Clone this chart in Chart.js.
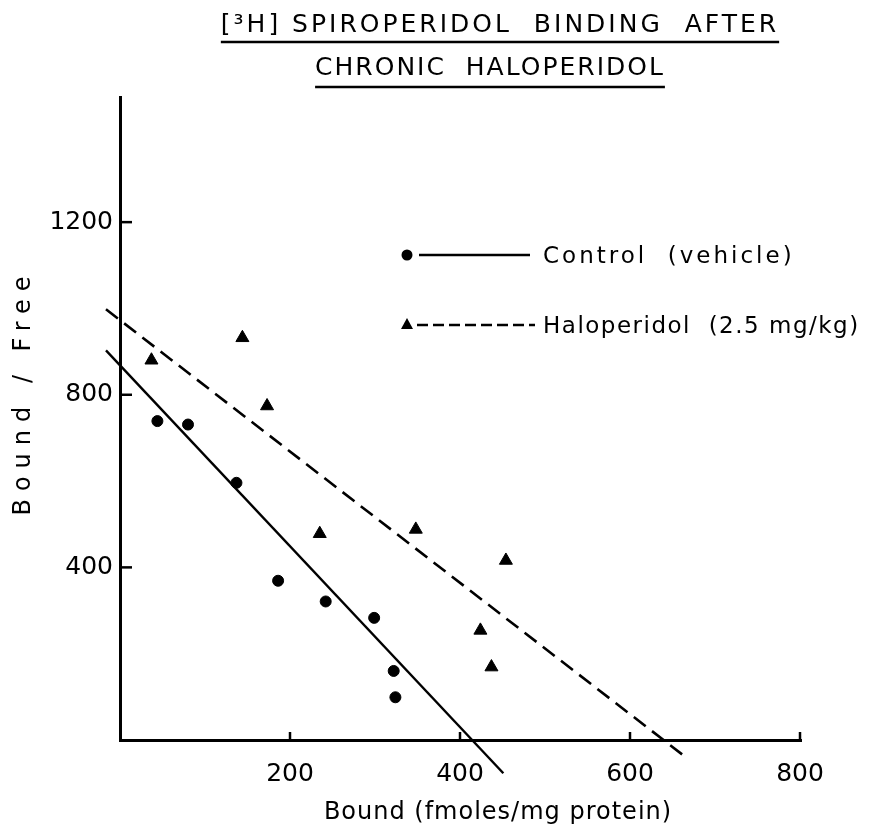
<!DOCTYPE html>
<html>
<head>
<meta charset="utf-8">
<title>[3H] Spiroperidol binding after chronic haloperidol</title>
<script src="https://cdn.jsdelivr.net/npm/chart.js@4.4.1/dist/chart.umd.min.js"></script>
<style>
  html, body { margin: 0; padding: 0; background: #fff; }
</style>
</head>
<body>
<canvas id="myChart" width="877" height="835"></canvas>
<script>
// values (Bound in fmoles/mg protein, Bound/Free)
const controlBound = [44, 80, 137, 186, 242, 299, 322, 324];
const controlBF    = [739, 731, 596, 369, 321, 283, 160, 99];
const haloBound    = [37, 144, 173, 235, 348, 424, 437, 454];
const haloBF       = [880, 932, 774, 478, 488, 254, 169, 416];

// the two fitted Scatchard lines, as drawn (they run past both axes)
const controlFitX = [-16.5, 451];
const controlFitY = [903, -77];
const haloFitX    = [-16.5, 667];
const haloFitY    = [998, -42];

const xTicks = [200, 400, 600, 800];
const yTicks = [400, 800, 1200];

const titleLines = ['[\u00B3H] SPIROPERIDOL  BINDING  AFTER', 'CHRONIC  HALOPERIDOL'];
const xTitle = 'Bound (fmoles/mg protein)';
const yTitle = 'Bound / Free';
const legendItems = ['Control  (vehicle)', 'Haloperidol  (2.5 mg/kg)'];

const FONT = '"DejaVu Sans", sans-serif';

let toPoints = (xs, ys) => xs.map((x, i) => ({ x: x, y: ys[i] }));

let line = (ctx, x1, y1, x2, y2) => {
    ctx.beginPath();
    ctx.moveTo(x1, y1);
    ctx.lineTo(x2, y2);
    ctx.stroke();
};

// title, axis titles, inward ticks and the hand-placed key
const extras = {
    id: 'extras',
    afterDraw(chart) {
        const ctx = chart.ctx;
        const area = chart.chartArea;
        const xs = chart.scales.x;
        const ys = chart.scales.y;
        ctx.save();
        ctx.strokeStyle = '#000';
        ctx.fillStyle = '#000';

        /* TICK MARKS POINT INTO THE PLOT */
        ctx.lineWidth = 2.5;
        yTicks.forEach(v => {
            const py = ys.getPixelForValue(v);
            line(ctx, area.left, py, area.left + 12, py);
        });
        xTicks.forEach(v => {
            const px = xs.getPixelForValue(v);
            line(ctx, px, area.bottom, px, area.bottom - 8);
        });

        /* TITLE, UNDERLINED */
        ctx.font = '25px ' + FONT;
        ctx.textAlign = 'center';
        ctx.textBaseline = 'middle';
        const tPos = [[500, 25, 42, '3px'], [490, 68, 87, '2px']];
        titleLines.forEach((t, i) => {
            const [cx, cy, uy, sp] = tPos[i];
            ctx.letterSpacing = sp;
            ctx.fillText(t, cx, cy);
            const w = ctx.measureText(t).width;
            ctx.lineWidth = 2.5;
            line(ctx, cx - w / 2, uy, cx + w / 2, uy);
        });

        /* AXIS TITLES */
        ctx.font = '24px ' + FONT;
        ctx.letterSpacing = '1px';
        ctx.fillText(xTitle, 498, 813);

        ctx.save();
        ctx.translate(24, 392);
        ctx.rotate(-Math.PI / 2);
        ctx.letterSpacing = '8px';
        ctx.fillText(yTitle, 0, 0);
        ctx.restore();

        /* KEY */
        ctx.font = '23px ' + FONT;
        ctx.textAlign = 'left';
        const kx = area.left + 287;
        const ky = [255, 325];
        ctx.beginPath();
        ctx.arc(kx, ky[0], 5.5, 0, Math.PI * 2);
        ctx.fill();
        ctx.lineWidth = 2.5;
        line(ctx, kx + 12, ky[0], kx + 123, ky[0]);
        ctx.letterSpacing = '3px';
        ctx.fillText(legendItems[0], kx + 136, ky[0] + 2);

        ctx.beginPath();
        ctx.moveTo(kx, ky[1] - 7);
        ctx.lineTo(kx + 6, ky[1] + 4);
        ctx.lineTo(kx - 6, ky[1] + 4);
        ctx.closePath();
        ctx.fill();
        ctx.setLineDash([11, 5]);
        line(ctx, kx + 10, ky[1], kx + 128, ky[1]);
        ctx.setLineDash([]);
        ctx.letterSpacing = '1.5px';
        ctx.fillText(legendItems[1], kx + 136, ky[1] + 2);

        ctx.restore();
    }
};

const ctx = document.getElementById('myChart');

const dataset = {
    datasets: [{
        label: legendItems[0],
        data: toPoints(controlBound, controlBF),
        pointStyle: 'circle',
        pointRadius: 5.5,
        backgroundColor: '#000',
        borderColor: '#000'
    }, {
        label: legendItems[1],
        data: toPoints(haloBound, haloBF),
        pointStyle: 'triangle',
        pointRadius: 7.5,
        backgroundColor: '#000',
        borderColor: '#000'
    }, {
        label: 'control fit',
        data: toPoints(controlFitX, controlFitY),
        showLine: true,
        pointRadius: 0,
        borderColor: '#000',
        borderWidth: 2.4,
        clip: false
    }, {
        label: 'haloperidol fit',
        data: toPoints(haloFitX, haloFitY),
        showLine: true,
        pointRadius: 0,
        borderColor: '#000',
        borderWidth: 2.6,
        borderDash: [15, 8],
        clip: false
    }]
};

const config = {
    type: 'scatter',
    data: dataset,
    options: {
        responsive: false,
        animation: false,
        devicePixelRatio: 1,
        layout: { padding: { left: 0, right: 77, top: 97, bottom: 0 } },
        plugins: {
            legend: { display: false },
            tooltip: { enabled: false }
        },
        scales: {
            x: {
                type: 'linear',
                min: 0,
                max: 800,
                afterBuildTicks: s => { s.ticks = xTicks.map(v => ({ value: v })); },
                afterFit: s => { s.height = 95; },
                grid: { drawOnChartArea: false, drawTicks: false, color: 'rgba(0,0,0,0)', lineWidth: 3 },
                border: { display: true, color: '#000', width: 3 },
                ticks: { color: '#000', padding: 19, maxRotation: 0, callback: v => String(v), font: { family: FONT, size: 25 } }
            },
            y: {
                type: 'linear',
                min: 0,
                max: 1490,
                afterBuildTicks: s => { s.ticks = yTicks.map(v => ({ value: v })); },
                afterFit: s => { s.width = 120; },
                grid: { drawOnChartArea: false, drawTicks: false, color: 'rgba(0,0,0,0)', lineWidth: 3 },
                border: { display: true, color: '#000', width: 3 },
                ticks: { color: '#000', padding: 7, callback: v => String(v), font: { family: FONT, size: 25 } }
            }
        }
    },
    plugins: [extras]
};

const chart = new Chart(ctx, config);
</script>
</body>
</html>
